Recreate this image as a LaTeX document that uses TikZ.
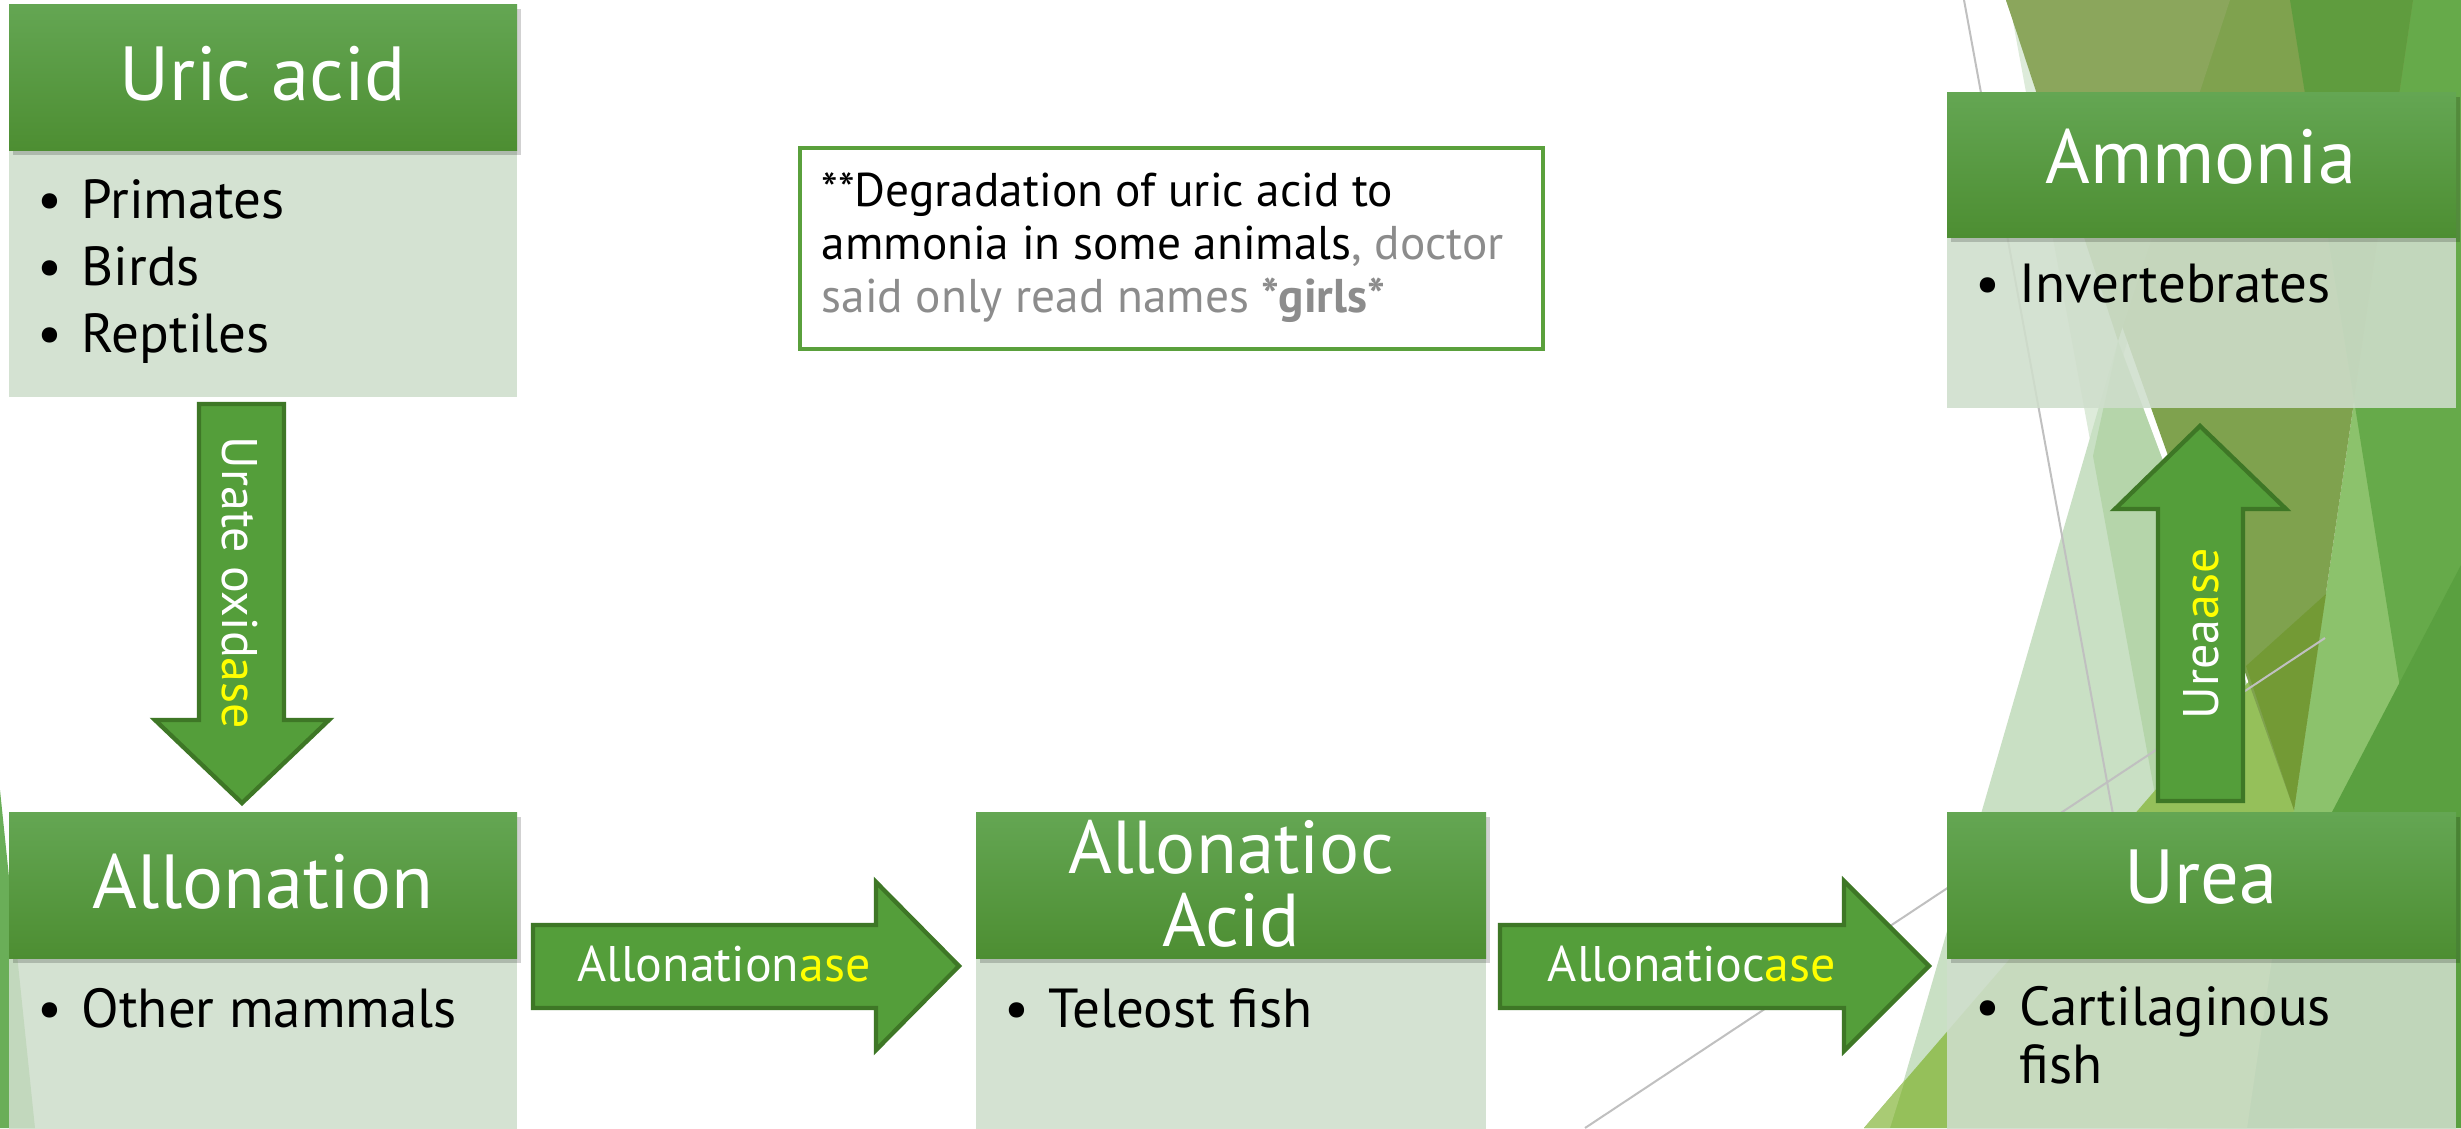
\documentclass[tikz,border=0pt]{standalone}
\usepackage{fontspec}
\setmainfont{PT Sans}
\usetikzlibrary{shadows,fit}
\definecolor{hdrtop}{RGB}{100,166,83}
\definecolor{hdrbot}{RGB}{77,142,50}
\definecolor{bodyc}{RGB}{207,222,204}
\definecolor{arrowfill}{RGB}{84,158,58}
\definecolor{arrowline}{RGB}{62,119,38}
\definecolor{notegreen}{RGB}{90,160,60}
\definecolor{notegray}{RGB}{140,140,140}
\definecolor{ase}{RGB}{255,255,0}
\definecolor{olivea}{RGB}{139,166,92}
\definecolor{oliveb}{RGB}{127,162,78}
\definecolor{olivegreen}{RGB}{95,156,62}
\definecolor{oliveyel}{RGB}{115,154,53}
\definecolor{lightg}{RGB}{140,194,108}
\definecolor{midg}{RGB}{102,170,74}
\definecolor{darkg}{RGB}{90,160,64}
\definecolor{palea}{RGB}{221,235,218}
\definecolor{paleb}{RGB}{201,224,196}
\definecolor{palec}{RGB}{181,213,170}
\definecolor{yelg}{RGB}{149,192,90}
\definecolor{yelgb}{RGB}{169,203,116}
\definecolor{sliver}{RGB}{106,174,88}
\definecolor{lineg}{RGB}{192,192,192}
\tikzset{
  hdr/.style={inner sep=0pt, top color=hdrtop, bottom color=hdrbot, draw=none,
    drop shadow={shadow xshift=1.2pt, shadow yshift=-1.5pt, opacity=0.18, fill=black}},
  bodybox/.style={inner sep=0pt, fill=bodyc, fill opacity=0.88, draw=none},
  hdrtext/.style={text=white, font=\fontsize{23}{21.9}\selectfont, inner sep=0pt, anchor=base},
  itemtext/.style={text=black, font=\fontsize{16.5}{20}\selectfont, inner sep=0pt, anchor=base west},
  blockarrow/.style={fill=arrowfill, draw=arrowline, line width=1.3pt, line join=miter},
  arrowlabel/.style={text=white, font=\fontsize{15}{18}\selectfont, inner sep=0pt},
  grayline/.style={draw=lineg, line width=0.6pt},
  notebox/.style={draw=notegreen, line width=1.2pt, fill=white, inner sep=0pt},
}
\begin{document}
\begin{tikzpicture}[x=0.3pt,y=-0.3pt]
\useasboundingbox (0,0) rectangle (2461,1128);
\fill[white] (0,0) rectangle (2461,1128);
% ---------- background facets ----------
\fill[palea] (2009,0) -- (2230,0) -- (2093,456) -- cycle;
\fill[paleb] (2118,341) -- (2294,810) -- (2294,1128) -- (1890,1128) -- cycle;
\fill[palec] (2093,456) -- (2118,341) -- (2294,810) -- (2294,1128) -- (2216,1128) -- cycle;
\fill[lightg] (2413,0) -- (2461,0) -- (2461,1128) -- (2150,1128) -- (2294,810) -- cycle;
\fill[midg] (2290,0) -- (2461,0) -- (2461,1069) -- cycle;
\fill[darkg] (2461,565) -- (2461,1128) -- (2167,1128) -- cycle;
\fill[yelg] (1864,1128) -- (2326,592) -- (2247,1128) -- cycle;
\fill[yelgb] (1864,1128) -- (1905,1080) -- (1890,1128) -- cycle;
\fill[oliveb] (2006,0) -- (2413,0) -- (2294,810) -- cycle;
\fill[olivea] (2006,0) -- (2230,0) -- (2118,341) -- cycle;
\fill[olivegreen] (2290,0) -- (2413,0) -- (2354,400) -- cycle;
\fill[oliveyel] (2246,666) -- (2326,594) -- (2294,810) -- cycle;
\fill[sliver] (0,790) -- (35,1128) -- (0,1128) -- cycle;
\coordinate (la1) at (1964,0);
\coordinate (la2) at (2125,880);
\coordinate (lb1) at (1585,1128);
\coordinate (lb2) at (2325,638);
\draw[grayline] (la1) -- (la2);
\draw[grayline] (lb1) -- (lb2);
% ---------- boxes ----------
% Uric acid
\node[bodybox, fit={(9,150) (517,397)}] (uricB) {};
\node[hdr, fit={(9,4) (517,150)}] (uric) {};
\node[hdrtext] (uricT) at (263,100) {Uric acid};
\node[itemtext] (uric1) at (37,218) {\makebox[13.2pt][l]{\textbullet}Primates};
\node[itemtext] (uric2) at (37,285) {\makebox[13.2pt][l]{\textbullet}Birds};
\node[itemtext] (uric3) at (37,352) {\makebox[13.2pt][l]{\textbullet}Reptiles};
% Allonation
\node[bodybox, fit={(9,958) (517,1130)}] (allB) {};
\node[hdr, fit={(9,812) (517,958)}] (all) {};
\node[hdrtext] (allT) at (263,908) {Allonation};
\node[itemtext] (all1) at (37,1027) {\makebox[13.2pt][l]{\textbullet}Other mammals};
% Allonatioc Acid
\node[bodybox, fit={(976,958) (1486,1130)}] (acB) {};
\node[hdr, fit={(976,812) (1486,958)}] (ac) {};
\node[text=white, font=\fontsize{22.5}{21.9}\selectfont, inner sep=0pt, align=center] (acT) at (1231,884) {Allonatioc\\Acid};
\node[itemtext] (ac1) at (1004,1027) {\makebox[13.2pt][l]{\textbullet}Teleost fish};
% Urea
\node[bodybox, fit={(1947,958) (2456,1130)}] (ureaB) {};
\node[hdr, fit={(1947,812) (2456,958)}] (urea) {};
\node[hdrtext] (ureaT) at (2201,903) {Urea};
\node[itemtext] (urea1) at (1975,1025) {\makebox[13.2pt][l]{\textbullet}Cartilaginous};
\node[itemtext] (urea2) at (2019,1083) {fish};
% Ammonia
\node[bodybox, fit={(1947,237) (2456,408)}] (ammB) {};
\node[hdr, fit={(1947,92) (2456,237)}] (amm) {};
\node[hdrtext] (ammT) at (2201,183) {Ammonia};
\node[itemtext] (amm1) at (1975,302) {\makebox[13.2pt][l]{\textbullet}Invertebrates};
% ---------- note ----------
\node[notebox, fit={(800,148) (1543,349)}] (note) {};
\node[anchor=north west, inner sep=0pt, align=left, font=\fontsize{14.2}{15.9}\selectfont] (noteT) at (821,172)
  {**Degradation of uric acid to\\ammonia in some animals\textcolor{notegray}{, doctor}\\\textcolor{notegray}{said only read names \textbf{*girls*}}};
% ---------- block arrows ----------
\draw[blockarrow] (199,404) -- (284,404) -- (284,720) -- (329,720) -- (242,803) -- (155,720) -- (199,720) -- cycle;
\node[arrowlabel, rotate=-90] (oxT) at (240,583) {Urate oxid\textcolor{ase}{ase}};
\draw[blockarrow] (533,925) -- (876,925) -- (876,882) -- (959,966) -- (876,1050) -- (876,1008) -- (533,1008) -- cycle;
\node[arrowlabel] (a1T) at (724,964) {Allonation\textcolor{ase}{ase}};
\draw[blockarrow] (1500,925) -- (1844,925) -- (1844,881) -- (1929,966) -- (1844,1051) -- (1844,1008) -- (1500,1008) -- cycle;
\node[arrowlabel] (a2T) at (1692,964) {Allonatioc\textcolor{ase}{ase}};
\draw[blockarrow] (2158,801) -- (2158,509) -- (2115,509) -- (2200,426) -- (2286,509) -- (2243,509) -- (2243,801) -- cycle;
\node[arrowlabel, rotate=90] (urT) at (2201,634) {Urea\textcolor{ase}{ase}};
\end{tikzpicture}
\end{document}
